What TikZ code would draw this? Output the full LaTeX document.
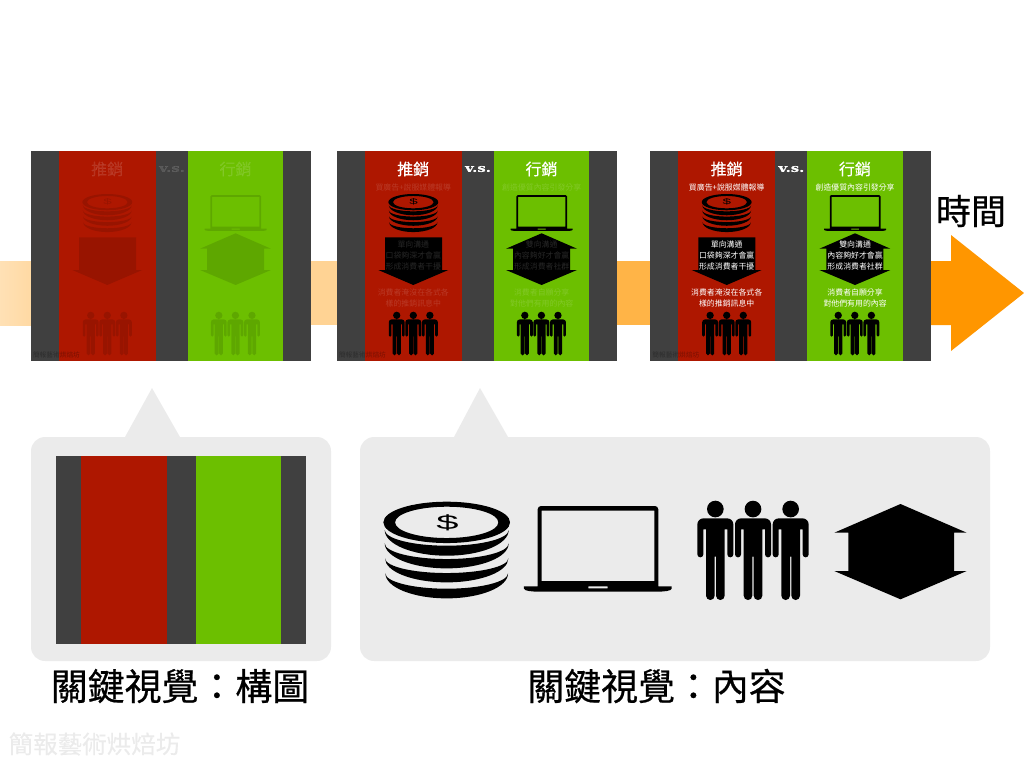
\documentclass[tikz,border=0pt]{standalone}
\usepackage{fontspec}
\newfontfamily\cjk{Noto Sans CJK TC}
\newfontfamily\cjkm[FakeBold=.35]{Noto Sans CJK TC}
\newfontfamily\cjkh[FakeBold=.6]{Noto Sans CJK TC}
\newfontfamily\vsfont[FakeBold=.5]{DejaVu Serif Bold}
\newfontfamily\dollarfont{Liberation Sans}
\definecolor{darkbg}{HTML}{404040}
\definecolor{redband}{HTML}{AE1700}
\definecolor{greenband}{HTML}{6CBF00}
\definecolor{panelgray}{HTML}{EBEBEB}
\definecolor{flow}{HTML}{FF9600}
\tikzset{
  ttxt/.style={inner sep=0pt,outer sep=0pt,align=center},
  titletxt/.style={ttxt,text=white,font={\cjkm\fontsize{16}{16}\selectfont}},
  smalltxt/.style={ttxt,text=white,font={\cjk\fontsize{7.9}{10.9}\selectfont}},
  vstxt/.style={ttxt,text=white,font={\vsfont\fontsize{11}{11}\selectfont}},
  marktxt/.style={ttxt,text=black,opacity=.3,font={\cjk\fontsize{6.7}{7}\selectfont}},
  biglabel/.style={ttxt,text=black,font={\cjkh\fontsize{36.9}{37}\selectfont}},
  panel/.style={fill=panelgray,draw=none}
}
% icons: #1 x, #2 y (top centre), #3 scale, #4 opacity
\newcommand{\iconcoins}[4]{%
\begin{scope}[shift={(#1,#2)},scale=#3,shift={(-230,-35)}]
  \fill[black,opacity=#4,even odd rule]
    (230,97) ellipse [x radius=190,y radius=62]
    (230,97) ellipse [x radius=155,y radius=47];
  \fill[black,opacity=#4]
    (44,120) arc [start angle=180,end angle=0,x radius=186,y radius=77]
    arc [start angle=0,end angle=180,x radius=186,y radius=47] -- cycle
    (44,160) arc [start angle=180,end angle=0,x radius=186,y radius=75]
    arc [start angle=0,end angle=180,x radius=186,y radius=47] -- cycle
    (45,205) arc [start angle=180,end angle=0,x radius=185,y radius=72]
    arc [start angle=0,end angle=180,x radius=185,y radius=44] -- cycle
    (46,250) arc [start angle=180,end angle=0,x radius=184,y radius=75]
    arc [start angle=0,end angle=180,x radius=184,y radius=46] -- cycle;
\end{scope}}
\newcommand{\iconlaptop}[4]{%
\begin{scope}[shift={(#1,#2)},scale=#3,shift={(-683.5,-48)}]
  \fill[black,opacity=#4,even odd rule]
    (503,58) arc [start angle=180,end angle=270,radius=10] -- (855,48)
    arc [start angle=270,end angle=360,radius=10] -- (865,289) -- (503,289) -- cycle
    (515,62) -- (853,62) -- (853,273) -- (515,273) -- cycle
    (462,289) -- (905,289) -- (905,296) .. controls (905,303) and (880,305) .. (860,305)
    -- (507,305) .. controls (487,305) and (462,303) .. (462,296) -- cycle
    (655,289) -- (713,289) -- (713,295) -- (655,295) -- cycle;
\end{scope}}
\newcommand{\personpath}[1]{%
  (#1,57) circle [radius=25]
  (#1-54,103) arc [start angle=180,end angle=270,radius=18] -- (#1+36,85)
  arc [start angle=270,end angle=360,radius=18] -- (#1+54,193)
  arc [start angle=0,end angle=180,radius=9] -- (#1+36,118) -- (#1+28,118) -- (#1+28,317)
  arc [start angle=0,end angle=180,radius=13] -- (#1+2,200) -- (#1-2,200) -- (#1-2,317)
  arc [start angle=0,end angle=180,radius=13] -- (#1-28,118) -- (#1-36,118) -- (#1-36,193)
  arc [start angle=0,end angle=180,radius=9] -- cycle}
\newcommand{\iconpeople}[4]{%
\begin{scope}[shift={(#1,#2)},scale=#3,shift={(0,-32)}]
  \fill[black,opacity=#4] \personpath{-113} \personpath{0} \personpath{113};
\end{scope}}
% slide: #1 name, #2 x, #3 title/vs opacity, #4 icon opacity
\newcommand{\slideframe}[4]{%
\begin{scope}[shift={(#2,151)}]
  \fill[darkbg] (0,0) rectangle (280.4,210);
  \fill[redband] (28,0) rectangle (124.5,210);
  \fill[greenband] (156.7,0) rectangle (252.3,210);
  \node[titletxt,opacity=#3] (#1t1) at (76.2,18) {推銷};
  \node[titletxt,opacity=#3] (#1t2) at (204.5,18) {行銷};
  \node[vstxt,opacity=#3] (#1vs) at (141,18) {\scalebox{1.35}[1]{v.s.}};
  \iconcoins{76.3}{43}{.1313}{#4}
  \node[ttxt,text=black,opacity=#4,font={\dollarfont\fontsize{8}{8}\selectfont}] (#1dollar) at (76.5,51) {\scalebox{1.9}[1]{\$}};
  \iconlaptop{204.7}{44}{.14}{#4}
  \fill[black,opacity=#4] (48,86.3) -- (105,86.3) -- (105,119) -- (111.3,119) -- (76.3,134) -- (41.3,119) -- (48,119) -- cycle;
  \fill[black,opacity=#4] (204.6,82.3) -- (240,97.7) -- (233,97.7) -- (233,119) -- (240,119) -- (204.6,134) -- (169,119) -- (176,119) -- (176,97.7) -- (169,97.7) -- cycle;
  \iconpeople{76.3}{160.7}{.1467}{#4}
  \iconpeople{204.4}{160.7}{.1467}{#4}
  \node[marktxt,anchor=west] (#1m) at (2,204) {簡報藝術烘焙坊};
\end{scope}}
% slide texts: #1 name, #2 x, #3 opacity
\newcommand{\slidetexts}[3]{%
\begin{scope}[shift={(#2,151)}]
  \node[smalltxt,opacity=#3] (#1a) at (76.3,36.7) {買廣告+說服媒體報導};
  \node[smalltxt,opacity=#3] (#1b) at (204.7,36.7) {創造優質內容引發分享};
  \node[smalltxt,opacity=#3] (#1e) at (76.3,104.6) {單向溝通\\口袋夠深才會贏\\形成消費者干擾};
  \node[smalltxt,opacity=#3] (#1f) at (204.7,104.6) {雙向溝通\\內容夠好才會贏\\形成消費者社群};
  \node[smalltxt,opacity=#3] (#1g) at (76.3,147.2) {消費者淹沒在各式各\\樣的推銷訊息中};
  \node[smalltxt,opacity=#3] (#1h) at (204.7,147.2) {消費者自願分享\\對他們有用的內容};
\end{scope}}
\begin{document}
\begin{tikzpicture}[x=1pt,y=1pt,yscale=-1]
\useasboundingbox (0,0) rectangle (1024,768);
% timeline band
\shade[left color=flow!29!white,right color=flow!36!white] (0,261) rectangle (31.5,325);
\fill[flow!42!white] (311,261) rectangle (337.5,325);
\fill[flow!72!white] (617,261) rectangle (650.5,325);
\fill[flow] (930,261) -- (951,261) -- (951,235) -- (1024,293) -- (951,351) -- (951,325) -- (930,325) -- cycle;
% slides
\slideframe{sa}{31}{.12}{.12}
\slideframe{sb}{337}{1}{1}
\slidetexts{sb}{337}{.15}
\slideframe{sc}{650.4}{1}{1}
\slidetexts{sc}{650.4}{1}
\node[ttxt,text=black,font={\cjkh\fontsize{35}{35}\selectfont}] (timelabel) at (971,211) {時間};
% left panel
\fill[panel] (125,437) -- (152,388) -- (180,437) -- cycle;
\fill[panel,rounded corners=14pt] (31,437) rectangle (331,661);
\fill[darkbg] (56,456) rectangle (306,644);
\fill[redband] (81,456) rectangle (167,644);
\fill[greenband] (196,456) rectangle (281,644);
% right panel
\fill[panel] (454,437) -- (480,388) -- (508,437) -- cycle;
\fill[panel,rounded corners=14pt] (360,437) rectangle (990,661);
\iconcoins{446.7}{501.7}{.3333}{1}
\node[ttxt,text=black,font={\dollarfont\fontsize{20}{20}\selectfont}] (bigdollar) at (447.5,522.3) {\scalebox{2}[1]{\$}};
\iconlaptop{597.8}{506}{.3333}{1}
\iconpeople{753}{500.7}{.3333}{1}
\fill[black] (900.5,504) -- (966.7,532.7) -- (954,532.7) -- (954,571) -- (966.7,571) -- (900.5,599.3) -- (834.3,571) -- (848.3,571) -- (848.3,532.7) -- (834.3,532.7) -- cycle;
% labels
\node[biglabel] (lab1) at (180,686) {關鍵視覺：構圖};
\node[biglabel] (lab2) at (656.5,686) {關鍵視覺：內容};
\node[ttxt,text=panelgray,font={\cjkm\fontsize{24.5}{25}\selectfont}] (wm) at (94.5,744) {簡報藝術烘焙坊};
\end{tikzpicture}
\end{document}
